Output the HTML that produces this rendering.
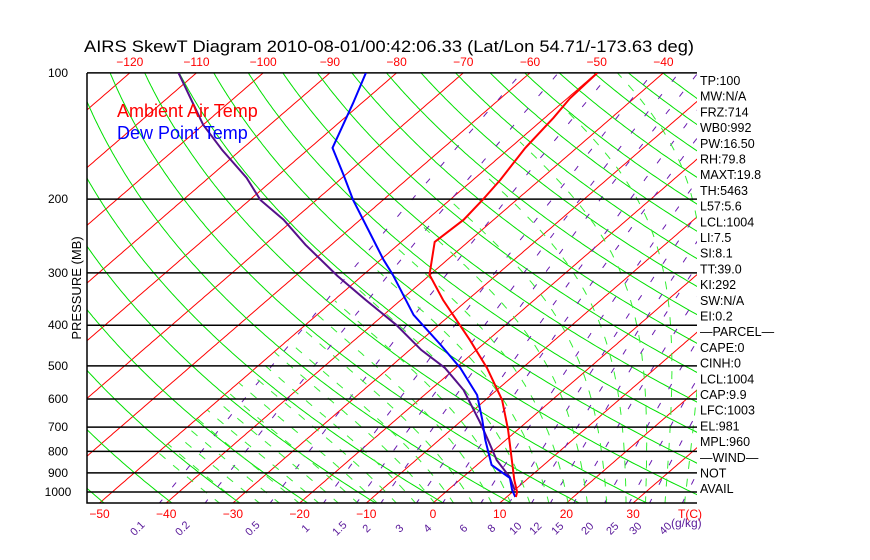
<!DOCTYPE html>
<html><head><meta charset="utf-8"><style>
body{margin:0;background:#fff;}
svg{display:block;font-family:"Liberation Sans",sans-serif;}
</style></head><body>
<svg id="chart" width="870" height="560" viewBox="0 0 870 560" xmlns="http://www.w3.org/2000/svg">
<defs><clipPath id="plotclip"><rect x="87" y="73" width="610" height="430"/></clipPath></defs>
<rect x="0" y="0" width="870" height="560" fill="#fff"/>
<text x="84" y="52" font-size="17" fill="#000" textLength="610" lengthAdjust="spacingAndGlyphs">AIRS SkewT Diagram 2010-08-01/00:42:06.33 (Lat/Lon 54.71/-173.63 deg)</text>
<g id="bg" clip-path="url(#plotclip)"></g>
<g id="grid"></g>
<g id="profiles" clip-path="url(#plotclip)"></g>
<g id="labels"></g>
<text x="117" y="117" font-size="18" fill="#ff0000">Ambient Air Temp</text>
<text x="117" y="139" font-size="18" fill="#0000ff">Dew Point Temp</text>
<text transform="translate(81,288) rotate(-90)" text-anchor="middle" font-size="13" fill="#000">PRESSURE (MB)</text>
</svg>
<script>
// ---- data ----
const pressureTicks=[100,200,300,400,500,600,700,800,900,1000];
const topTempTicks=[-120,-110,-100,-90,-80,-70,-60,-50,-40];
const bottomTempTicks=[-50,-40,-30,-20,-10,0,10,20,30];
const mixingRatios=[0.1,0.2,0.5,1,1.5,2,3,4,6,8,10,12,15,20,25,30,40];
const mixLabelX=[140,185,255,308,342,369,402,430,466,494,518,538,560,590,615,638,668];
const tempP=[100,115,128,151,180,201,224,253,303,348,434,506,603,711,816,936,1000,1028];
const tempT=[-49.9,-49.6,-48.7,-47.7,-45.9,-45.1,-44.5,-45.0,-40.1,-33.7,-22.7,-15.3,-7.5,-1.4,3.4,8.2,10.7,11.4];
const dewP=[100,118,151,175,201,279,303,378,446,506,587,673,751,862,926,989,1028];
const dewT=[-84.6,-81.3,-76.6,-70.3,-64.5,-49.6,-45.6,-35.5,-26.2,-19.3,-12.1,-7.0,-3.1,2.2,7.2,9.6,11.3];
const parcelP=[100,133,153,178,201,224,257,305,348,399,458,506,571,681,751,839,921,989];
const parcelT=[-112.7,-100,-92.7,-84.3,-78.4,-71.5,-63.9,-53.7,-45.3,-36.4,-28.3,-21.6,-15.0,-7.0,-2.7,2.1,7.0,10.0];
const stats=["TP:100","MW:N/A","FRZ:714","WB0:992","PW:16.50","RH:79.8","MAXT:19.8","TH:5463","L57:5.6","LCL:1004","LI:7.5","SI:8.1","TT:39.0","KI:292","SW:N/A","EI:0.2","\u2014PARCEL\u2014","CAPE:0","CINH:0","LCL:1004","CAP:9.9","LFC:1003","EL:981","MPL:960","\u2014WIND\u2014"," NOT","AVAIL"];
// ---- axes ----
const NS="http://www.w3.org/2000/svg";
const X0=433,DX=6.67,SK=1.156,YB=503,XL=87,XR=697,YT=73;
function yP(p){return 492+182*Math.log(p/1000);}
function xT(T,p){return X0+DX*T+SK*(YB-yP(p));}
function mk(tag,attrs,parent){const e=document.createElementNS(NS,tag);for(const k in attrs)e.setAttribute(k,attrs[k]);parent.appendChild(e);return e;}
const bg=document.getElementById('bg'),grid=document.getElementById('grid'),prof=document.getElementById('profiles'),lab=document.getElementById('labels');
const pTop=95,pBot=1070;
function lineFn(fn,color,w,dash,name){
  let d="";let first=true;
  for(let lp=Math.log(pBot);lp>=Math.log(pTop);lp-=0.01){const p=Math.exp(lp);const T=fn(p);if(T===null){first=true;continue;}d+=(first?"M":"L")+xT(T,p).toFixed(1)+","+yP(p).toFixed(1);first=false;}
  const e=mk('path',{d:d,fill:'none',stroke:color,'stroke-width':w},bg);
  if(dash)e.setAttribute('stroke-dasharray',dash);
  
  
}
// isotherms
for(let T=-160;T<=50;T+=10){lineFn(p=>T,'#ff0000',1,null,'isotherm');}
// dry adiabats
for(let th=200;th<=520;th+=10){lineFn(p=>th*Math.pow(p/1000,0.2857)-273.15,'#00e000',1,null,'dry-adiabat');}
// mixing ratio lines
function tdFromW(w,p){const e=w*p/(622+w);const l=Math.log(e/6.112);return 243.5*l/(17.67-l);}
mixingRatios.forEach(w=>lineFn(p=>tdFromW(w,p),'#6a1ab0',1,'6 16','mixing-ratio-line'));
// moist adiabats
function es(Tc){return 6.112*Math.exp(17.67*Tc/(Tc+243.5));}
function dTdp(T,p){const rs=0.622*es(T-273.15)/(p-es(T-273.15));const Lv=2.5e6,Rd=287,cp=1005;return (1/p)*(Rd*T+Lv*rs)/(cp+Lv*Lv*rs*0.622/(Rd*T*T));}
const TCUT=-50;
for(let t0=-36;t0<=45;t0+=3){
  let Td=t0+273.15,pd=1000;
  while(pd<pBot){Td+=dTdp(Td,pd)*2;pd+=2;}
  let d="M"+xT(Td-273.15,pd).toFixed(1)+","+yP(pd).toFixed(1);
  while(pd>pTop){Td+=dTdp(Td,pd)*(-2);pd-=2;if(Td-273.15<TCUT)break;d+="L"+xT(Td-273.15,pd).toFixed(1)+","+yP(pd).toFixed(1);}
  const e=mk('path',{d:d,fill:'none',stroke:'#33ee33','stroke-width':1,'stroke-dasharray':'8 10'},bg);
  
  
}
// pressure lines + labels
pressureTicks.forEach(p=>{
  const y=yP(p);
  const l=mk('line',{x1:XL,x2:XR,y1:y,y2:y,stroke:'#000','stroke-width':1.5},grid);
  
  
  const t=mk('text',{x:58,y:y+4,'font-size':12,'text-anchor':'middle',fill:'#000'},lab);
  t.textContent=p;
  
  
});
const ax=mk('path',{d:`M${XL},${YT}L${XL},${YB}L${XR},${YB}`,fill:'none',stroke:'#000','stroke-width':1.5},grid);


topTempTicks.forEach(T=>{
  const t=mk('text',{x:xT(T,100).toFixed(1),y:66,'font-size':12,'text-anchor':'middle',fill:'#ff0000'},lab);
  t.textContent=String(T).replace('-','\u2212');
  
  
});
bottomTempTicks.forEach(T=>{
  const t=mk('text',{x:(X0+DX*T).toFixed(1),y:518,'font-size':12,'text-anchor':'middle',fill:'#ff0000'},lab);
  t.textContent=String(T).replace('-','\u2212');
  
  
});
const tc=mk('text',{x:690,y:518,'font-size':12,'text-anchor':'middle',fill:'#ff0000'},lab);
tc.textContent='T(C)';


mixingRatios.forEach((w,i)=>{
  const t=mk('text',{transform:`translate(${mixLabelX[i]},531) rotate(-45)`,'font-size':11,'text-anchor':'middle',fill:'#5a1a9a'},lab);
  t.textContent=w;
  
  
});
const gk=mk('text',{x:671,y:527,'font-size':12,fill:'#5a1a9a'},lab);
gk.textContent='(g/kg)';


stats.forEach((s,i)=>{
  const t=mk('text',{x:700,y:85+i*15.7,'font-size':12.5,fill:'#000'},lab);
  t.textContent=s;
  
  
});
// profiles
function prof2(P,T,color,name){
  const d=P.map((p,i)=>(i?"L":"M")+xT(T[i],p).toFixed(1)+","+yP(p).toFixed(1)).join("");
  const e=mk('path',{d:d,fill:'none',stroke:color,'stroke-width':2},prof);
  
  
}
prof2(parcelP,parcelT,'#55118a','parcel-line');
prof2(dewP,dewT,'#0000ff','dew-point-line');
prof2(tempP,tempT,'#ff0000','temperature-line');
</script>
</body></html>
